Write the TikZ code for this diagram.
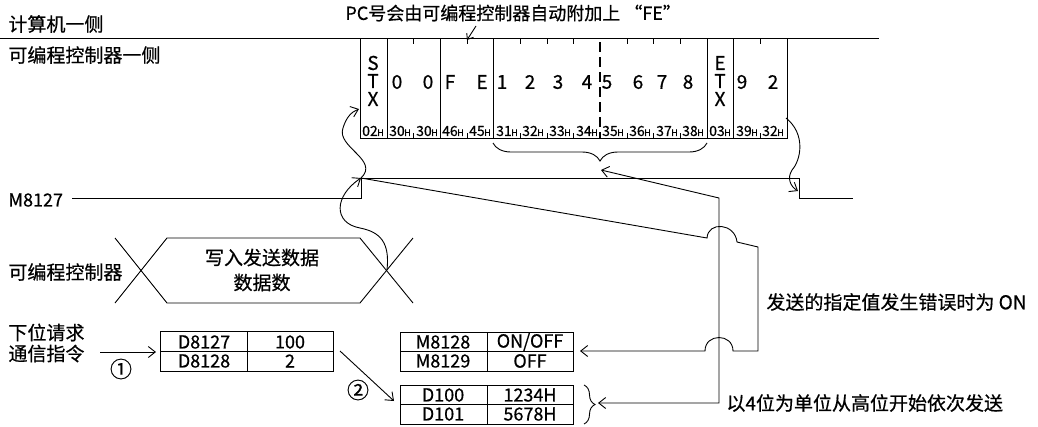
\documentclass[tikz,border=0pt]{standalone}
\usepackage{fontspec}
\setmainfont{Noto Sans CJK SC}[FakeBold=0.6]
\usetikzlibrary{arrows.meta,decorations.pathreplacing}
\begin{document}
\begin{tikzpicture}[x=1pt,y=-1pt,line width=0.9pt,
  lbl/.style={inner sep=0pt,font=\fontsize{19}{21}\selectfont},
  chr/.style={inner sep=0pt,font=\fontsize{19}{20}\selectfont},
  hx/.style={inner sep=0pt,font=\fontsize{14}{14}\selectfont},
  tb/.style={inner sep=0pt,font=\fontsize{18}{19}\selectfont},
  arr/.style={-{Straight Barb[length=7pt,width=11pt]}},
  arrs/.style={-{Straight Barb[length=5pt,width=8pt]}},
]
\useasboundingbox (0,0) rectangle (1038,426);
% ---- labels
\node[lbl,anchor=west] (pcside) at (8,24) {计算机一侧};
\node[lbl,anchor=west] (plcside) at (8,55) {可编程控制器一侧};
\node[lbl,anchor=west,font=\fontsize{18}{20}\selectfont] (m8127) at (8,200) {M8127};
\node[lbl,anchor=west] (ctl) at (8,272) {可编程控制器};
\node[lbl,anchor=west,align=left] (req) at (8,343) {下位请求\\通信指令};
\node[lbl,anchor=west,font=\fontsize{18}{20}\selectfont] (note) at (345,13) {PC号会由可编程控制器自动附加上 “FE”};
\node[lbl,anchor=west] (errtxt) at (766,302) {发送的指定值发生错误时为 ON};
\node[lbl,anchor=west] (ordtxt) at (726,403) {以4位为单位从高位开始依次发送};
% ---- top line
\draw (0,38) -- (879,38);
% ---- frame
\draw (360,38) -- (360,138) -- (787,138) -- (787,38);
\foreach \x in {387,440,493,707,733} \draw (\x,38) -- (\x,138);
\foreach \x in {413,467,520,547,573,627,653,680,760} {
  \draw (\x,38) -- (\x,44);
  \draw (\x,133) -- (\x,138);
}
\draw[line width=2.6pt,dash pattern=on 10pt off 5pt] (600,42) -- (600,139);
% frame characters
\foreach \c/\y in {S/63,T/81,X/99} \node[chr] at (373,\y) {\c};
\foreach \c/\y in {E/63,T/81,X/99} \node[chr] at (720,\y) {\c};
\foreach \c/\x in {0/397,0/428,F/450,E/482,1/502,2/530,3/558,4/587,5/607,6/638,7/662,8/688,9/742,2/773}
  \node[chr] at (\x,82) {\c};
% hex row
\foreach \h/\x in {02/373,30/400,30/427,46/453,45/480,31/507,32/533,33/560,34/587,35/613,36/640,37/667,38/693,03/720,39/747,32/773}
  \node[hx] at (\x,131) {\h\kern-0.5pt{\fontsize{9}{9}\selectfont H}};
% brace under data
\draw[decorate,decoration={brace,mirror,amplitude=18pt}] (493,143) -- (707,143);
\coordinate (bt) at (601,170);
% note arrow
\coordinate (fe) at (467,40);
\coordinate (nt) at (476,26);
\draw[arrs] (nt) -- (fe);
% ---- M8127 waveform
\coordinate (w0) at (72,198);
\coordinate (r0) at (361,198);
\coordinate (r1) at (361,178);
\coordinate (f1) at (799,178);
\coordinate (f0) at (799,198);
\coordinate (w1) at (853,198);
\draw (w0) -- (r0) -- (r1) -- (f1) -- (f0) -- (w1);
% ---- hexagon
\draw (115,238) -- (167,303) -- (360,303) -- (413,238);
\draw (115,303) -- (167,238) -- (360,238) -- (413,303);
\coordinate (xr) at (387,270);
\node[lbl,align=center,font=\fontsize{19}{25}\selectfont] (wr) at (262,270) {写入发送数据\\数据数};
% ---- curves
\coordinate (stx) at (359,109);
\draw[arr] (r1) .. controls (380,160) and (336,147) .. (343,128) .. controls (346,118) and (351,112) .. (stx);
\draw[arr] (xr) .. controls (390,242) and (380,232) .. (360,228) .. controls (333,223) and (334,196) .. (r1);
\coordinate (fend) at (786,118);
\coordinate (fa) at (798,191);
\draw[arr] (fend) .. controls (806,134) and (801,160) .. (792,170) .. controls (787,178) and (790,186) .. (fa);
% ---- error path
\coordinate (e1) at (707,238);
\coordinate (e2) at (737,242);
\coordinate (e3) at (758,247);
\coordinate (e4) at (758,351);
\coordinate (e5) at (733,351);
\coordinate (e6) at (705,351);
\coordinate (m28) at (580,351);
\draw[arr] (r1) -- (e1) .. controls (708,221) and (735,223) .. (e2) -- (e3) -- (e4) -- (e5)
   .. controls (733,333) and (705,333) .. (e6) -- (m28);
% ---- order path
\coordinate (o1) at (719,198);
\coordinate (o2) at (719,403);
\coordinate (dbr) at (598,403);
\draw[{Straight Barb[length=7pt,width=11pt]}-{Straight Barb[length=7pt,width=11pt]}] (bt) -- (o1) -- (o2) -- (dbr);
% ---- tables
\draw (160,331) rectangle (333,371) (247,331) -- (247,371) (160,351) -- (333,351);
\node[tb] (t1a) at (204,342) {D8127};
\node[tb] (t1b) at (290,342) {100};
\node[tb] (t1c) at (204,361) {D8128};
\node[tb] (t1d) at (290,361) {2};
\draw (400,332) rectangle (573,371) (487,332) -- (487,371) (400,351) -- (573,351);
\node[tb] (t2a) at (443,342) {M8128};
\node[tb] (t2b) at (530,342) {ON/OFF};
\node[tb] (t2c) at (443,361) {M8129};
\node[tb] (t2d) at (530,361) {OFF};
\draw (400,385) rectangle (573,424) (487,385) -- (487,424) (400,404) -- (573,404);
\node[tb] (t3a) at (443,395) {D100};
\node[tb] (t3b) at (530,395) {1234H};
\node[tb] (t3c) at (443,414) {D101};
\node[tb] (t3d) at (530,414) {5678H};
\draw[decorate,decoration={brace,amplitude=11pt}] (584,385) -- (584,424);
% ---- arrows 1 and 2
\coordinate (a1s) at (100,352);
\coordinate (a1e) at (156,352);
\draw[arr] (a1s) -- (a1e);
\node[lbl,font=\fontsize{22}{22}\selectfont] (n1) at (121,369) {①};
\coordinate (a2s) at (340,351);
\coordinate (a2e) at (394,401);
\draw[arr] (a2s) -- (a2e);
\node[lbl,font=\fontsize{22}{22}\selectfont] (n2) at (358,390) {②};
\end{tikzpicture}
\end{document}
